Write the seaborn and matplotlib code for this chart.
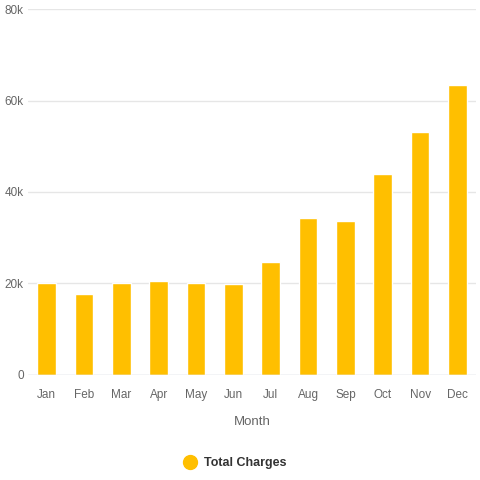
import numpy as np
import seaborn as sns
import pandas as pd
import matplotlib.pyplot as plt
from matplotlib.lines import Line2D
from matplotlib.ticker import FuncFormatter

months = ["Jan", "Feb", "Mar", "Apr", "May", "Jun", "Jul", "Aug", "Sep", "Oct", "Nov", "Dec"]
charges = [20000, 17700, 20100, 20500, 20100, 19800, 24700, 34400, 33700, 43900, 53100, 63400]
series_name = "Total Charges"

bar_color = "#FFBF00"
text_color = "#666666"
grid_color = "#E6E6E6"

def main():
    sns.set_theme(style="white")
    plt.rcParams['font.family'] = ['Liberation Sans', 'DejaVu Sans']

    df = pd.DataFrame({"Month": months, "Charges": charges})

    fig = plt.figure(figsize=(4.8, 4.8), dpi=100)
    ax = fig.add_axes([0.058, 0.219, 0.934, 0.762])

    sns.barplot(data=df, x="Month", y="Charges", color=bar_color, saturation=1,
                width=0.5, ax=ax, zorder=3)

    ax.set_ylim(0, 80000)
    ax.set_yticks([0, 20000, 40000, 60000, 80000])
    ax.yaxis.set_major_formatter(FuncFormatter(lambda v, p: "0" if v == 0 else "{0}k".format(int(v / 1000))))
    ax.set_xlim(-0.5, len(months) - 0.5)
    ax.grid(axis="y", color=grid_color, linewidth=1, zorder=0)
    ax.set_axisbelow(True)
    for s in ax.spines.values():
        s.set_visible(False)
    ax.axhline(0, color="#DADDE6", linewidth=1, zorder=4)

    ax.tick_params(axis="both", length=0, labelsize=8.5, colors=text_color)
    ax.tick_params(axis="x", pad=10)
    ax.tick_params(axis="y", pad=3)
    ax.set_ylabel("")
    ax.set_xlabel("Month", fontsize=9.5, color=text_color, labelpad=11)

    handle = Line2D([], [], marker="o", linestyle="", markersize=10,
                    markerfacecolor=bar_color, markeredgecolor=bar_color)
    fig.legend([handle], [series_name], loc="center", bbox_to_anchor=(0.483, 0.035),
               frameon=False, handletextpad=0.1, prop={"size": 9, "weight": "bold"},
               labelcolor="#333333")

    plt.savefig("out.png", dpi=100)

main()
